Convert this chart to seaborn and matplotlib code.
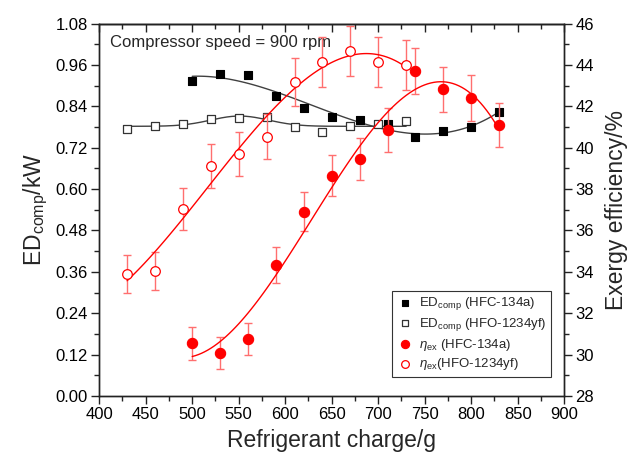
import numpy as np
import matplotlib
matplotlib.use("Agg")
import matplotlib.pyplot as plt
import seaborn as sns
from matplotlib.ticker import MultipleLocator

# ---------------- data ----------------
charge_134a = [500, 530, 560, 590, 620, 650, 680, 710, 740, 770, 800, 830]
charge_1234yf = [430, 460, 490, 520, 550, 580, 610, 640, 670, 700, 730]

ed_134a = [0.914, 0.935, 0.930, 0.870, 0.836, 0.810, 0.800, 0.788, 0.752, 0.768, 0.780, 0.823]
ed_1234yf = [0.774, 0.783, 0.788, 0.802, 0.807, 0.808, 0.781, 0.764, 0.783, 0.790, 0.798]

eta_134a = [30.55, 30.08, 30.74, 34.35, 36.91, 38.65, 39.47, 40.86, 43.71, 42.82, 42.39, 41.10]
eta_134a_err = [0.79, 0.79, 0.77, 0.87, 0.93, 1.00, 1.01, 1.06, 1.11, 1.10, 1.10, 1.05]
eta_1234yf = [33.88, 34.03, 37.02, 39.13, 39.70, 40.52, 43.19, 44.14, 44.69, 44.13, 43.98]
eta_1234yf_err = [0.91, 0.93, 1.01, 1.06, 1.06, 1.09, 1.16, 1.22, 1.21, 1.20, 1.21]

x_ticks = [400, 450, 500, 550, 600, 650, 700, 750, 800, 850, 900]
left_ticks = [0.00, 0.12, 0.24, 0.36, 0.48, 0.60, 0.72, 0.84, 0.96, 1.08]
right_ticks = [28, 30, 32, 34, 36, 38, 40, 42, 44, 46]

legend_labels = [r"ED$_{\mathrm{comp}}$ (HFC-134a)",
                 r"ED$_{\mathrm{comp}}$ (HFO-1234yf)",
                 r"$\mathit{\eta}_{\mathrm{ex}}$ (HFC-134a)",
                 r"$\mathit{\eta}_{\mathrm{ex}}$(HFO-1234yf)"]

# ---------------- style ----------------
sns.set_theme(style="ticks")
plt.rcParams["font.family"] = ["Liberation Sans", "DejaVu Sans"]
plt.rcParams["mathtext.fontset"] = "custom"
plt.rcParams["mathtext.rm"] = "Liberation Sans"
plt.rcParams["mathtext.it"] = "Liberation Sans:italic"
plt.rcParams["mathtext.bf"] = "Liberation Sans:bold"
plt.rcParams["axes.linewidth"] = 1.0
plt.rcParams["axes.edgecolor"] = "#222222"

fig = plt.figure(figsize=(6.29, 4.59), dpi=100)
ax = fig.add_axes([0.1577, 0.1373, 0.7393, 0.8115])
ax2 = ax.twinx()

dark = "#404040"
red = "#ff0000"
ebar = "#ff6f6f"

# ---------------- left axis: exergy destruction ----------------
sns.regplot(x=charge_134a, y=ed_134a, order=3, ci=None, scatter=False, ax=ax,
            line_kws=dict(color=dark, lw=1.0))

# Gaussian + baseline fit for HFO-1234yf ED (least squares via grid search)
xg = np.array(charge_1234yf, float)
yg = np.array(ed_1234yf, float)
best = None
for xc in np.arange(500.0, 620.0, 1.0):
    for w in np.arange(10.0, 100.0, 1.0):
        g = np.exp(-(xg - xc) ** 2 / (2 * w * w))
        M = np.column_stack([np.ones_like(g), g])
        coef = np.linalg.lstsq(M, yg, rcond=None)[0]
        r = np.sum((M @ coef - yg) ** 2)
        if best is None or r < best[0]:
            best = (r, xc, w, coef)
_, xc, w, coef = best
xf = np.linspace(xg.min(), xg.max(), 300)
yf = coef[0] + coef[1] * np.exp(-(xf - xc) ** 2 / (2 * w * w))
sns.lineplot(x=xf, y=yf, ax=ax, color=dark, lw=1.0)

sns.scatterplot(x=charge_134a, y=ed_134a, ax=ax, marker="s", s=38,
                color="black", edgecolor="black", linewidth=0.8,
                label=legend_labels[0], zorder=4)
sns.scatterplot(x=charge_1234yf, y=ed_1234yf, ax=ax, marker="s", s=38,
                facecolors="white", edgecolor="#333333", linewidth=0.9,
                label=legend_labels[1], zorder=4)

# ---------------- right axis: exergy efficiency ----------------
ax2.errorbar(charge_134a, eta_134a, yerr=eta_134a_err, fmt="none",
             ecolor=ebar, elinewidth=1.0, capsize=3, capthick=1.0, zorder=2)
ax2.errorbar(charge_1234yf, eta_1234yf, yerr=eta_1234yf_err, fmt="none",
             ecolor=ebar, elinewidth=1.0, capsize=3, capthick=1.0, zorder=2)
sns.regplot(x=charge_134a, y=eta_134a, order=3, ci=None, scatter=False, ax=ax2,
            line_kws=dict(color=red, lw=1.0))
sns.regplot(x=charge_1234yf, y=eta_1234yf, order=3, ci=None, scatter=False, ax=ax2,
            line_kws=dict(color=red, lw=1.0))
sns.scatterplot(x=charge_134a, y=eta_134a, ax=ax2, marker="o", s=55,
                color=red, edgecolor=red, linewidth=0.8,
                label=legend_labels[2], zorder=4)
sns.scatterplot(x=charge_1234yf, y=eta_1234yf, ax=ax2, marker="o", s=48,
                facecolors="white", edgecolor=red, linewidth=0.9,
                label=legend_labels[3], zorder=4)

# ---------------- axes formatting ----------------
ax.set_xlim(400, 900)
ax.set_ylim(0.0, 1.08)
ax2.set_ylim(28, 46)

ax.set_xticks(x_ticks)
ax.set_xticklabels([str(v) for v in x_ticks])
ax.xaxis.set_minor_locator(MultipleLocator(25))
ax.set_yticks(left_ticks)
ax.set_yticklabels([f"{v:.2f}" for v in left_ticks])
ax.yaxis.set_minor_locator(MultipleLocator(0.06))
ax2.set_yticks(right_ticks)
ax2.set_yticklabels([str(v) for v in right_ticks])
ax2.yaxis.set_minor_locator(MultipleLocator(1))

ax.tick_params(axis="x", which="both", direction="out", bottom=True, top=False,
               labelsize=12, colors="#222222", labelcolor="black", pad=2)
ax.tick_params(axis="y", which="both", direction="out", left=True, right=False,
               labelsize=12, colors="#222222", labelcolor="black", pad=2)
ax.tick_params(which="major", length=6, width=1.0)
ax.tick_params(which="minor", length=3.5, width=1.0)
ax2.tick_params(axis="y", which="both", direction="out", right=True,
                labelsize=12, colors="#222222", labelcolor="black", pad=2)
ax2.tick_params(which="major", length=6, width=1.0)
ax2.tick_params(which="minor", length=3.5, width=1.0)

secx = ax.secondary_xaxis("top")
secx.set_xticks(x_ticks)
secx.xaxis.set_minor_locator(MultipleLocator(25))
secx.tick_params(axis="x", which="both", direction="in", labeltop=False,
                 colors="#222222")
secx.tick_params(which="major", length=6, width=1.0)
secx.tick_params(which="minor", length=3.5, width=1.0)

ax.set_xlabel("Refrigerant charge/g", fontsize=16.5, labelpad=5)
ax.set_ylabel(r"ED$_{\mathrm{comp}}$/kW", fontsize=16.5, labelpad=4)
ax2.set_ylabel("Exergy efficiency/%", fontsize=16.5, labelpad=8)

ax.text(0.023, 0.948, "Compressor speed = 900 rpm", transform=ax.transAxes,
        fontsize=12, ha="left", va="center")

# ---------------- legend ----------------
h1, l1 = ax.get_legend_handles_labels()
h2, l2 = ax2.get_legend_handles_labels()
if ax.get_legend() is not None:
    ax.get_legend().remove()
if ax2.get_legend() is not None:
    ax2.get_legend().remove()
leg = ax2.legend(h1 + h2, l1 + l2, loc="lower right",
                 bbox_to_anchor=(0.972, 0.051), borderaxespad=0,
                 fontsize=9.5, frameon=True,
                 fancybox=False, edgecolor="#333333", framealpha=1,
                 labelspacing=0.28, handletextpad=0.4, handlelength=1.3,
                 borderpad=0.35, markerscale=0.8)
leg.get_frame().set_linewidth(0.8)

fig.savefig("out.png", dpi=100)
